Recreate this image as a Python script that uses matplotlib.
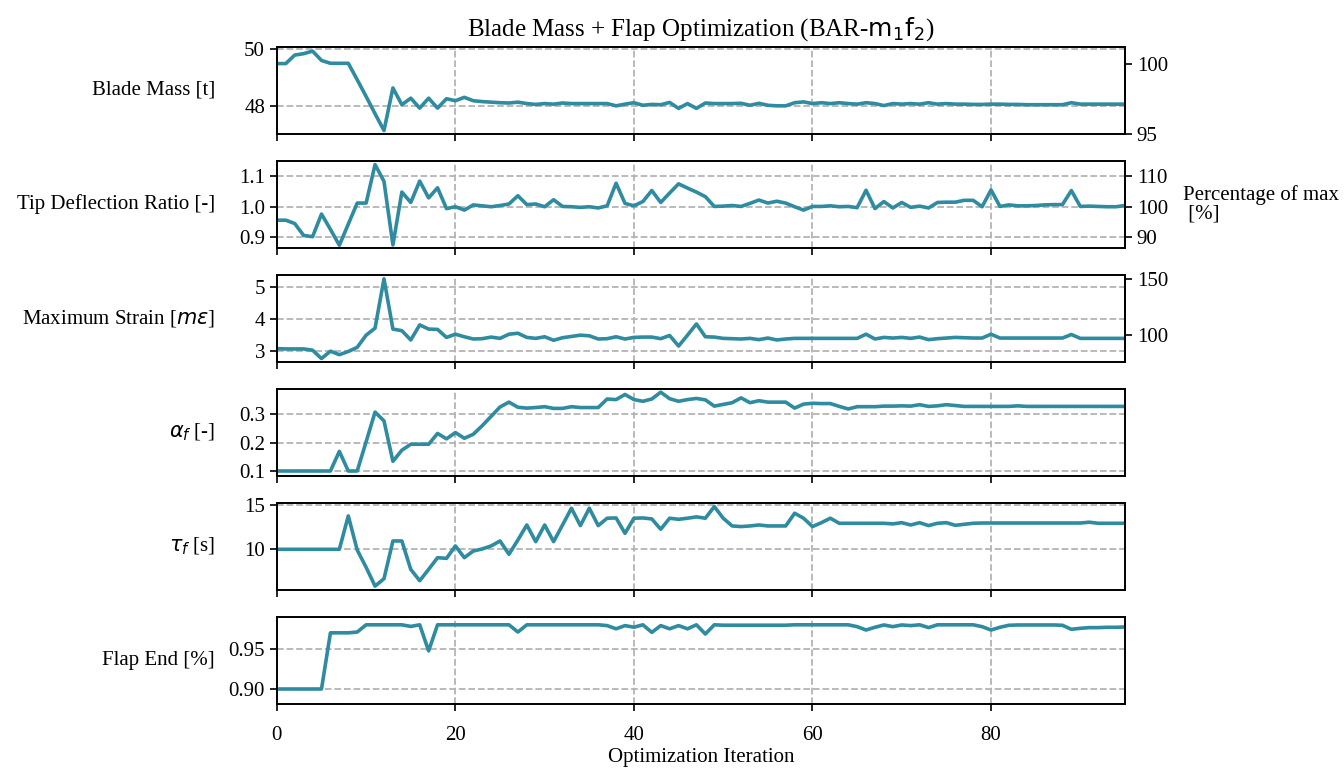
import numpy as np
import matplotlib
matplotlib.use("Agg")
import matplotlib.pyplot as plt

plt.rcParams['font.family'] = 'serif'
plt.rcParams['font.serif'] = ['Liberation Serif', 'DejaVu Serif']
plt.rcParams['font.size'] = 15

# ---- data ----
iterations = np.arange(96)

blade_mass = [49.48, 49.48, 49.78, 49.83, 49.92, 49.59, 49.49, 49.49, 49.49, 48.91,
              48.32, 47.71, 47.12, 48.62, 48.03, 48.26, 47.91, 48.26, 47.91, 48.24,
              48.17, 48.29, 48.17, 48.14, 48.12, 48.10, 48.09, 48.12, 48.07, 48.04,
              48.07, 48.05, 48.09, 48.07, 48.07, 48.07, 48.07, 48.07, 47.99, 48.05,
              48.10, 48.01, 48.04, 48.03, 48.11, 47.90, 48.07, 47.90, 48.09, 48.07,
              48.07, 48.07, 48.08, 48.01, 48.08, 48.01, 47.99, 47.99, 48.10, 48.13,
              48.07, 48.10, 48.07, 48.10, 48.07, 48.05, 48.10, 48.07, 48.00, 48.07,
              48.05, 48.07, 48.05, 48.10, 48.05, 48.07, 48.05, 48.05, 48.04, 48.04,
              48.05, 48.05, 48.04, 48.04, 48.03, 48.03, 48.03, 48.03, 48.03, 48.10,
              48.05, 48.05, 48.05, 48.05, 48.05, 48.05]

tip_defl = [0.956, 0.956, 0.945, 0.906, 0.902, 0.976, 0.926, 0.874, 0.943, 1.012,
            1.012, 1.138, 1.083, 0.875, 1.048, 1.014, 1.084, 1.029, 1.062, 0.994,
            1.000, 0.989, 1.006, 1.003, 1.000, 1.004, 1.009, 1.036, 1.007, 1.009,
            1.000, 1.023, 1.001, 1.000, 0.998, 1.000, 0.996, 1.003, 1.077, 1.011,
            1.003, 1.017, 1.053, 1.014, 1.045, 1.075, 1.061, 1.048, 1.033, 1.001,
            1.002, 1.004, 1.001, 1.011, 1.022, 1.012, 1.018, 1.012, 1.000, 0.989,
            1.001, 1.001, 1.003, 1.000, 1.001, 0.997, 1.054, 0.994, 1.017, 0.996,
            1.014, 0.998, 1.002, 0.996, 1.014, 1.015, 1.015, 1.021, 1.021, 1.000,
            1.055, 1.001, 1.006, 1.003, 1.003, 1.004, 1.006, 1.007, 1.007, 1.053,
            1.001, 1.002, 1.001, 1.000, 1.000, 1.004]

max_strain = [3.07, 3.06, 3.06, 3.06, 3.02, 2.76, 2.99, 2.88, 2.98, 3.11,
              3.49, 3.71, 5.25, 3.68, 3.63, 3.34, 3.81, 3.68, 3.67, 3.42,
              3.52, 3.44, 3.37, 3.38, 3.43, 3.39, 3.52, 3.55, 3.42, 3.39,
              3.44, 3.33, 3.41, 3.45, 3.49, 3.47, 3.37, 3.38, 3.44, 3.37,
              3.42, 3.43, 3.43, 3.38, 3.48, 3.15, 3.49, 3.84, 3.44, 3.43,
              3.39, 3.38, 3.37, 3.39, 3.35, 3.40, 3.34, 3.37, 3.39, 3.39,
              3.39, 3.39, 3.39, 3.39, 3.39, 3.39, 3.52, 3.37, 3.42, 3.40,
              3.42, 3.39, 3.43, 3.35, 3.38, 3.40, 3.42, 3.41, 3.40, 3.40,
              3.52, 3.40, 3.40, 3.40, 3.40, 3.40, 3.40, 3.40, 3.40, 3.51,
              3.39, 3.39, 3.39, 3.39, 3.39, 3.39]

alpha_f = [0.100, 0.100, 0.100, 0.100, 0.100, 0.100, 0.100, 0.169, 0.100, 0.100,
           0.203, 0.307, 0.276, 0.134, 0.173, 0.194, 0.194, 0.194, 0.232, 0.213,
           0.235, 0.215, 0.229, 0.259, 0.292, 0.325, 0.342, 0.324, 0.321, 0.323,
           0.326, 0.320, 0.320, 0.326, 0.323, 0.323, 0.323, 0.353, 0.351, 0.369,
           0.351, 0.345, 0.353, 0.377, 0.354, 0.345, 0.351, 0.355, 0.350, 0.328,
           0.334, 0.340, 0.357, 0.340, 0.347, 0.342, 0.342, 0.342, 0.321, 0.335,
           0.338, 0.337, 0.337, 0.327, 0.318, 0.326, 0.326, 0.326, 0.328, 0.328,
           0.329, 0.328, 0.333, 0.327, 0.329, 0.333, 0.330, 0.327, 0.327, 0.327,
           0.327, 0.327, 0.327, 0.329, 0.327, 0.327, 0.327, 0.327, 0.327, 0.327,
           0.327, 0.327, 0.327, 0.327, 0.327, 0.327]

tau_f = [10.0, 10.0, 10.0, 10.0, 10.0, 10.0, 10.0, 10.0, 13.76, 9.92,
         7.97, 5.86, 6.69, 10.94, 10.94, 7.74, 6.47, 7.74, 9.06, 8.98,
         10.38, 9.06, 9.81, 10.04, 10.38, 10.94, 9.44, 11.05, 12.74, 10.86,
         12.74, 10.86, 12.74, 14.62, 12.67, 14.62, 12.67, 13.50, 13.53, 11.80,
         13.50, 13.53, 13.42, 12.26, 13.50, 13.38, 13.50, 13.65, 13.50, 14.81,
         13.50, 12.63, 12.56, 12.63, 12.74, 12.63, 12.63, 12.63, 14.06, 13.50,
         12.56, 13.00, 13.50, 12.93, 12.93, 12.93, 12.93, 12.93, 12.93, 12.86,
         13.00, 12.74, 13.00, 12.67, 12.93, 13.00, 12.70, 12.82, 12.93, 12.96,
         12.96, 12.96, 12.96, 12.96, 12.96, 12.96, 12.96, 12.96, 12.96, 12.96,
         12.96, 13.05, 12.93, 12.93, 12.93, 12.93]

flap_end = [0.900, 0.900, 0.900, 0.900, 0.900, 0.900, 0.970, 0.970, 0.970, 0.971,
            0.980, 0.980, 0.980, 0.980, 0.980, 0.978, 0.980, 0.9475, 0.980, 0.980,
            0.980, 0.980, 0.980, 0.980, 0.980, 0.980, 0.980, 0.971, 0.980, 0.980,
            0.980, 0.980, 0.980, 0.980, 0.980, 0.980, 0.980, 0.979, 0.975, 0.979,
            0.977, 0.980, 0.9706, 0.979, 0.975, 0.979, 0.975, 0.980, 0.9685, 0.980,
            0.9795, 0.9795, 0.9795, 0.9795, 0.9795, 0.9795, 0.9795, 0.9795, 0.980, 0.980,
            0.980, 0.980, 0.980, 0.980, 0.980, 0.9777, 0.9735, 0.9769, 0.9798, 0.9777,
            0.9798, 0.979, 0.980, 0.9765, 0.980, 0.980, 0.980, 0.980, 0.980, 0.9777,
            0.9735, 0.9769, 0.9794, 0.9798, 0.9798, 0.9798, 0.9798, 0.9798, 0.9794, 0.9744,
            0.9756, 0.9765, 0.9765, 0.9769, 0.9769, 0.9773]

mass_ref = blade_mass[0]   # 100 % = initial mass
strain_ref = 3.5           # 100 % = strain limit

line_color = '#2e8ba0'
grid_kw = dict(color='#b4b4b4', linestyle='--', linewidth=1.3)

fig, axs = plt.subplots(6, 1, sharex=True, figsize=(13.44, 7.68), dpi=100)
fig.subplots_adjust(left=0.206, right=0.837, top=0.939, bottom=0.083, hspace=0.31)

series = [blade_mass, tip_defl, max_strain, alpha_f, tau_f, flap_end]
labels = ['Blade Mass [t]', 'Tip Deflection Ratio [-]', r'Maximum Strain [$m\epsilon$]',
          r'$\alpha_f$ [-]', r'$\tau_f$ [s]', 'Flap End [%]']
ylims = [(47.0, 50.07), (0.865, 1.15), (2.65, 5.37), (0.082, 0.388), (5.4, 15.2), (0.881, 0.9895)]
yticks = [[48, 50], [0.9, 1.0, 1.1], [3, 4, 5], [0.1, 0.2, 0.3], [10, 15], [0.90, 0.95]]
yticklabels = [['48', '50'], ['0.9', '1.0', '1.1'], ['3', '4', '5'],
               ['0.1', '0.2', '0.3'], ['10', '15'], ['0.90', '0.95']]

for ax, y, lab, lim, tk, tl in zip(axs, series, labels, ylims, yticks, yticklabels):
    ax.plot(iterations, y, color=line_color, linewidth=2.6)
    ax.set_ylim(lim)
    ax.set_yticks(tk)
    ax.set_yticklabels(tl)
    ax.set_xlim(0, 95)
    ax.set_xticks([0, 20, 40, 60, 80])
    ax.grid(True, **grid_kw)
    ax.set_ylabel(lab, rotation=0, ha='right', va='center')
    ax.yaxis.set_label_coords(-0.073, 0.5)
    ax.tick_params(direction='out', length=5, width=1.2)
    ax.tick_params(axis='x', pad=11)
    for s in ax.spines.values():
        s.set_linewidth(1.4)

# right-hand percentage axes
sec1 = axs[0].secondary_yaxis('right', functions=(lambda v: v / mass_ref * 100,
                                                   lambda p: p * mass_ref / 100))
sec1.set_yticks([95, 100])
sec2 = axs[1].secondary_yaxis('right', functions=(lambda v: v * 100, lambda p: p / 100))
sec2.set_yticks([90, 100, 110])
sec3 = axs[2].secondary_yaxis('right', functions=(lambda v: v / strain_ref * 100,
                                                   lambda p: p * strain_ref / 100))
sec3.set_yticks([100, 150])
for sec in (sec1, sec2, sec3):
    sec.tick_params(direction='out', length=5, width=1.2)
    sec.spines['right'].set_linewidth(1.4)

axs[1].text(1.068, 0.5, 'Percentage of max\n [%]', transform=axs[1].transAxes,
            ha='left', va='center', linespacing=1.0)

axs[0].set_title(r'Blade Mass + Flap Optimization (BAR-$\mathrm{m}_1\mathrm{f}_2$)', pad=8)
axs[-1].set_xlabel('Optimization Iteration', labelpad=2)

fig.savefig('out.png', dpi=100)
